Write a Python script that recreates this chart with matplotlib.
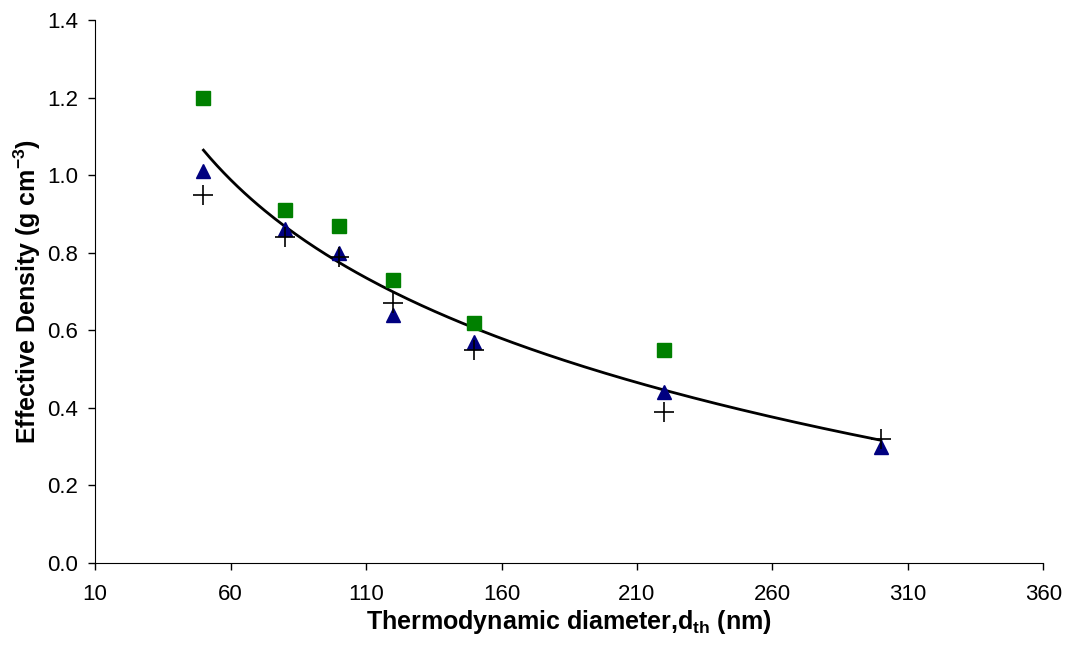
import numpy as np
import matplotlib
matplotlib.use('Agg')
import matplotlib.pyplot as plt

plt.rcParams['font.family'] = ['Liberation Sans', 'DejaVu Sans']
plt.rcParams['mathtext.fontset'] = 'custom'
plt.rcParams['mathtext.rm'] = 'Liberation Sans'
plt.rcParams['mathtext.bf'] = 'Liberation Sans:bold'

# ── Data ──────────────────────────────────────────────────────────────
d_sq  = [50, 80, 100, 120, 150, 220]
rho_sq = [1.20, 0.91, 0.87, 0.73, 0.62, 0.55]

d_tri  = [50, 80, 100, 120, 150, 220, 300]
rho_tri = [1.01, 0.86, 0.80, 0.64, 0.57, 0.44, 0.30]

d_plus  = [50, 80, 100, 120, 150, 220, 300]
rho_plus = [0.95, 0.84, 0.79, 0.67, 0.55, 0.39, 0.32]

# logarithmic trendline over all points
all_d = np.array(d_sq + d_tri + d_plus, dtype=float)
all_r = np.array(rho_sq + rho_tri + rho_plus)
b, a = np.polyfit(np.log(all_d), all_r, 1)
xfit = np.linspace(50, 300, 200)
yfit = a + b * np.log(xfit)

# ── Plot ──────────────────────────────────────────────────────────────
fig = plt.figure(figsize=(10.68, 6.5), dpi=100)
ax = fig.add_axes([0.089, 0.134, 0.888, 0.835])

ax.plot(xfit, yfit, color='black', lw=2.0, zorder=2)
ax.plot(d_sq, rho_sq, 's', color='#008000', ms=9.5, mec='#008000', zorder=3)
ax.plot(d_tri, rho_tri, '^', color='#000080', ms=10, mec='#000080', zorder=3)
ax.plot(d_plus, rho_plus, '+', color='black', ms=14, mew=1.2, zorder=4)

ax.set_xlim(10, 360)
ax.set_ylim(0, 1.4)
ax.set_xticks(np.arange(10, 361, 50))
ax.set_yticks(np.arange(0, 1.41, 0.2))
ax.yaxis.set_major_formatter(matplotlib.ticker.FormatStrFormatter('%.1f'))
ax.tick_params(direction='out', length=5, labelsize=16, width=1)
ax.tick_params(axis='x', pad=10)
ax.tick_params(axis='y', pad=7)

for s in ['top', 'right']:
    ax.spines[s].set_visible(False)

ax.set_xlabel(r'Thermodynamic diameter,d$_{\mathbf{th}}$ (nm)', fontsize=18, fontweight='bold', labelpad=2)
ax.set_ylabel(r'Effective Density (g cm$^{\mathbf{-3}}$)', fontsize=18, fontweight='bold', labelpad=3)

plt.savefig('out.png', dpi=100)
